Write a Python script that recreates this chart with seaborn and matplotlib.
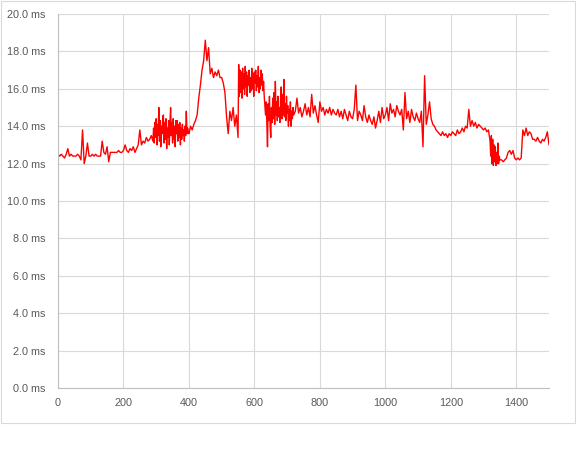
import numpy as np
import pandas as pd
import matplotlib
matplotlib.use("Agg")
import matplotlib.pyplot as plt
import seaborn as sns

# Series, in segments (first sample, sample spacing, values)
seg_a_start, seg_a_step = 0, 5
seg_a_ms = [
    12.5,12.4,12.5,12.4,12.3,12.5,12.8,12.4,12.5,12.4,
    12.4,12.4,12.5,12.4,12.2,13.8,12.0,12.4,13.1,12.4,
    12.4,12.5,12.4,12.5,12.4,12.4,12.4,13.2,12.6,12.5,
    12.9,12.1,12.6,12.6,12.6,12.6,12.6,12.7,12.6,12.6,
    12.7,13.0,12.7,12.6,12.8,12.7,12.9,12.6,12.8,13.0,
    13.8,13.0,13.2,13.1,13.4,13.2,13.3,13.5,
]
seg_b_start, seg_b_step = 290, 2
seg_b_ms = [
    13.2,13.9,13.1,14.2,13.4,14.4,13.0,14.1,13.5,15.0,
    13.2,14.3,12.9,14.0,13.6,14.5,14.6,13.1,14.2,13.3,
    14.4,12.8,13.9,13.4,14.3,13.0,14.1,15.0,13.5,14.2,
    13.1,14.4,13.3,14.0,12.9,14.3,13.6,14.3,13.2,14.1,
    13.4,14.2,13.0,13.9,13.3,14.1,13.5,13.8,13.2,14.0,
    13.5,14.8,13.6,13.9,13.7,
]
seg_c_start, seg_c_step = 400, 5
seg_c_ms = [
    13.6,14.0,13.8,14.1,14.3,14.6,15.5,16.2,17.0,17.5,
    18.6,17.5,18.2,16.8,17.1,16.6,16.9,16.7,17.0,16.6,
    16.6,16.3,15.8,14.5,13.6,14.8,14.3,15.0,14.0,14.6,
    13.4,
]
seg_d_start, seg_d_step = 552, 2
seg_d_ms = [
    17.3,15.6,17.0,15.8,16.9,15.5,17.1,16.0,16.8,15.7,
    17.2,16.1,16.9,15.6,16.7,16.2,17.0,15.8,16.6,15.9,
    17.1,16.0,16.8,15.6,16.9,16.3,17.0,15.9,16.7,16.1,
    17.2,15.8,16.6,16.0,17.0,16.2,16.8,15.9,16.4,15.6,
    15.1,14.6,15.3,14.2,12.9,
    15.2,14.3,15.6,14.0,13.4,15.0,14.2,15.5,14.4,15.8,
    14.1,16.4,14.6,15.3,14.3,15.6,14.5,15.0,14.2,15.4,
    16.1,14.4,15.7,14.6,16.5,14.5,15.2,14.3,15.6,14.7,
    15.1,14.0,14.9,14.3,15.3,14.0,14.8,14.4,15.0,14.6,
]
seg_e_start, seg_e_step = 725, 5
seg_e_ms = [
    14.8,15.5,14.7,15.0,14.5,
    14.8,15.2,14.6,15.0,14.5,15.7,14.7,15.1,14.6,14.2,
    15.3,14.8,15.0,14.6,14.9,14.7,15.0,14.6,14.9,14.7,
    14.6,14.9,14.5,14.8,14.4,14.9,14.6,14.3,14.8,14.5,
    14.4,14.9,16.2,14.3,14.8,14.6,14.3,15.1,14.5,14.2,
    14.6,14.3,14.1,14.5,13.9,14.3,14.8,14.2,15.0,14.4,
    14.6,15.0,14.3,15.2,14.7,14.9,14.5,15.1,14.8,14.6,
    14.9,13.8,15.8,14.4,14.8,14.2,14.9,14.5,14.3,14.7,
    14.4,14.2,14.8,12.9,16.7,14.1,14.6,15.3,14.4,14.1,
    14.0,13.8,13.7,13.6,13.5,13.7,13.5,13.6,13.4,13.6,
    13.5,13.7,13.6,13.5,13.8,13.6,13.7,13.9,13.7,14.0,
    13.9,14.9,14.0,14.3,14.0,14.2,13.9,14.1,14.0,13.9,
    13.8,13.9,13.7,13.8,
]
seg_f_start, seg_f_step = 1320, 2
seg_f_ms = [
    13.2,12.4,13.5,12.0,13.3,11.9,13.0,12.1,12.9,11.9,
    12.6,12.0,13.1,12.0,12.4,12.2,
]
seg_g_start, seg_g_step = 1355, 5
seg_g_ms = [
    12.2,12.1,12.2,12.3,12.6,12.7,12.5,12.7,12.3,
    12.2,12.3,12.2,12.3,13.8,13.5,13.9,13.5,13.7,13.6,
    13.3,13.3,13.2,13.4,13.2,13.1,13.3,13.2,13.4,13.7,
    13.0,
]

x_ticks = [0, 200, 400, 600, 800, 1000, 1200, 1400]
y_ticks = [0, 2, 4, 6, 8, 10, 12, 14, 16, 18, 20]

segments = [
    (seg_a_start, seg_a_step, seg_a_ms),
    (seg_b_start, seg_b_step, seg_b_ms),
    (seg_c_start, seg_c_step, seg_c_ms),
    (seg_d_start, seg_d_step, seg_d_ms),
    (seg_e_start, seg_e_step, seg_e_ms),
    (seg_f_start, seg_f_step, seg_f_ms),
    (seg_g_start, seg_g_step, seg_g_ms),
]
sample_index, latency_ms = [], []
for start, step, vals in segments:
    sample_index += [start + i * step for i in range(len(vals))]
    latency_ms += vals

df = pd.DataFrame({"sample": sample_index, "ms": latency_ms})

sns.set_style("white")
plt.rcParams["font.family"] = ["Liberation Sans", "DejaVu Sans"]

fig = plt.figure(figsize=(5.76, 4.5), dpi=100)
ax = fig.add_axes([58/576, 1 - 388/450, (549-58)/576, (388-14)/450])

sns.lineplot(data=df, x="sample", y="ms", ax=ax, color="#ff0000",
             linewidth=1.0, sort=False, estimator=None)

ax.set_xlim(0, 1500)
ax.set_ylim(0, 20)
ax.set_xticks(x_ticks)
ax.set_yticks(y_ticks)
ax.set_xticklabels([str(t) for t in x_ticks])
ax.set_yticklabels([f"{t:.1f} ms" for t in y_ticks])
ax.grid(True, color="#d9d9d9", linewidth=0.8)
ax.set_axisbelow(True)
ax.set_xlabel("")
ax.set_ylabel("")
for s in ["top", "right"]:
    ax.spines[s].set_visible(False)
for s in ["left", "bottom"]:
    ax.spines[s].set_color("#bfbfbf")
    ax.spines[s].set_linewidth(0.8)
ax.tick_params(axis="both", length=0, labelsize=7.8, labelcolor="#595959")
ax.tick_params(axis="y", pad=9)
ax.tick_params(axis="x", pad=7)

fig.patches.append(plt.Rectangle((0.5/576, 1 - 423/450), 574.5/576, 422.5/450,
                                 transform=fig.transFigure, fill=False,
                                 edgecolor="#d9d9d9", linewidth=0.8))

fig.savefig("out.png", dpi=100)
